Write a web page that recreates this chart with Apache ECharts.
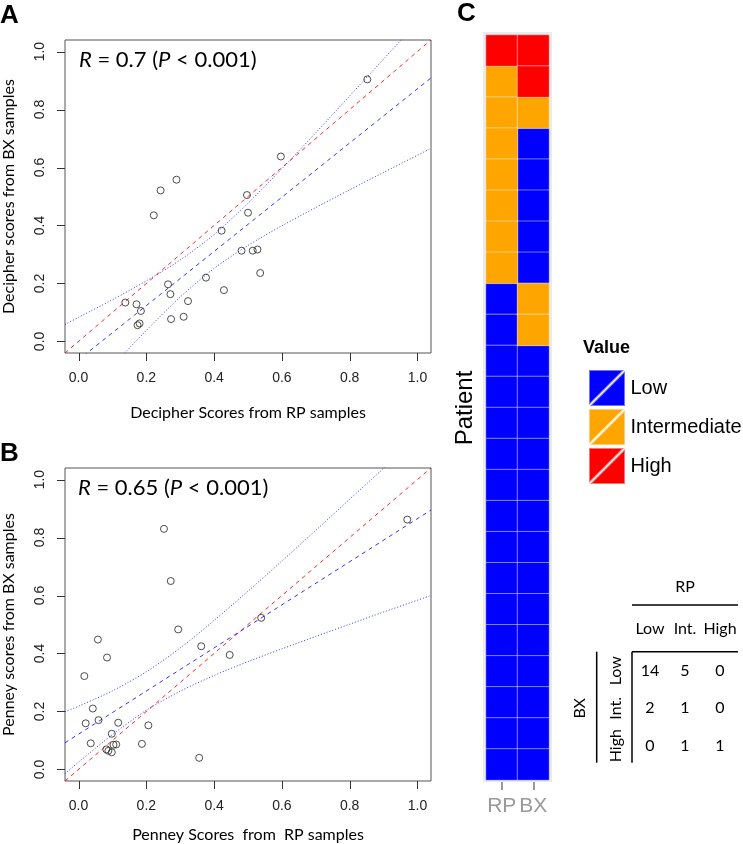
<!DOCTYPE html>
<html><head><meta charset="utf-8">
<script src="https://cdn.jsdelivr.net/npm/echarts@6/dist/echarts.min.js"></script>
<style>html,body{margin:0;padding:0;background:#fff}#c{width:743px;height:844px}</style>
</head><body><div id="c"></div>
<script>
// ---------- Panel A : Decipher ----------
const aRP = [0.852,0.597,0.289,0.242,0.222,0.497,0.500,0.422,0.481,0.514,0.528,0.536,0.376,0.429,0.264,0.271,0.323,0.138,0.171,0.184,0.174,0.180,0.273,0.310];
const aBX = [0.904,0.638,0.558,0.521,0.435,0.505,0.444,0.382,0.313,0.313,0.317,0.236,0.220,0.177,0.197,0.163,0.139,0.134,0.128,0.105,0.056,0.062,0.077,0.085];
// ---------- Panel B : Penney ----------
const bRP = [0.252,0.272,0.970,0.539,0.294,0.362,0.446,0.057,0.084,0.017,0.042,0.021,0.059,0.117,0.206,0.098,0.036,0.187,0.103,0.111,0.082,0.088,0.098,0.356];
const bBX = [0.830,0.650,0.862,0.523,0.483,0.425,0.395,0.448,0.386,0.322,0.210,0.159,0.170,0.161,0.152,0.123,0.090,0.088,0.085,0.086,0.069,0.064,0.059,0.040];
// regression / confidence band / identity lines
const bandX  = [-0.04,0,0.1,0.2,0.3,0.4,0.5,0.6,0.7,0.8,0.9,1.04];
const aUpper = [0.058,0.083,0.144,0.209,0.281,0.369,0.477,0.596,0.720,0.847,0.974,1.153];
const aLower = [-0.261,-0.211,-0.085,0.038,0.153,0.252,0.331,0.399,0.462,0.523,0.583,0.666];
const aFitX = [-0.04,1.04], aFitY = [-0.101,0.909];
const bUpper = [0.199,0.218,0.271,0.337,0.419,0.514,0.615,0.719,0.825,0.932,1.039,1.190];
const bLower = [-0.015,0.025,0.120,0.204,0.270,0.324,0.372,0.416,0.459,0.501,0.543,0.600];
const bFitX = [-0.04,1.04], bFitY = [0.092,0.895];
const idX = [-0.04,1.04], idY = [-0.04,1.04];
const ticks = [0,0.2,0.4,0.6,0.8,1.0];
const axisMin = -0.04, axisMax = 1.04;   // R's 4% range extension around 0..1
// ---------- Panel C : heatmap ----------
const sampleCats = ['RP','BX'];
const patients = ['1','2','3','4','5','6','7','8','9','10','11','12','13','14','15','16','17','18','19','20','21','22','23','24'];
const rpLevel = ['High','Intermediate','Intermediate','Intermediate','Intermediate','Intermediate','Intermediate','Intermediate','Low','Low','Low','Low','Low','Low','Low','Low','Low','Low','Low','Low','Low','Low','Low','Low'];
const bxLevel = ['High','High','Intermediate','Low','Low','Low','Low','Low','Intermediate','Intermediate','Low','Low','Low','Low','Low','Low','Low','Low','Low','Low','Low','Low','Low','Low'];
const levels = ['Low','Intermediate','High'];
const levelColors = ['#0000FF','#FFA500','#FF0000'];
// ---------- contingency table ----------
const tableCols = ['Low','Int.','High'];
const tableRows = ['Low','Int.','High'];
const tableCounts = [[14,5,0],[2,1,0],[0,1,1]];

const pairs = (xs, ys) => xs.map((x,i)=>[x, ys[i]]);
const RED = 'rgba(255,0,0,0.85)', BLUE = 'rgba(0,0,255,0.8)';
const TICK = 8;

// plot boxes (full data range -0.04..1.04)
const boxA = {left:65, top:40, width:366, height:313};
const boxB = {left:65, top:468, width:366, height:313};
// label strips outside the box: each spans exactly 0..1 and is TICK px deep
function tickGrids(box){
  const span = axisMax - axisMin;
  const w = box.width / span, h = box.height / span;
  return [
    {left: box.left + (0 - axisMin) * w, top: box.top + box.height, width: w, height: TICK},
    {left: box.left - TICK, top: box.top + (axisMax - 1) * h, width: TICK, height: h}
  ];
}
const [gAx, gAy] = tickGrids(boxA), [gBx, gBy] = tickGrids(boxB);

const hiddenVal = gi => ({gridIndex:gi, type:'value', min:axisMin, max:axisMax, show:false});
const tickCommon = {
  type:'value', min:0, max:1, interval:0.2,
  axisLine:{show:false}, axisTick:{show:false}, splitLine:{show:false},
  axisLabel:{formatter:v=>v.toFixed(1), margin:10, fontSize:14, fontFamily:'Liberation Sans', color:'#222'},
  nameLocation:'middle', nameTextStyle:{fontFamily:'Lato', fontSize:16, color:'#000'}
};
const tickX = (gi, name, gap) => Object.assign({}, tickCommon, {gridIndex:gi, position:'bottom', name, nameGap:gap});
const tickY = (gi, name, gap) => Object.assign({}, tickCommon, {gridIndex:gi, position:'left', name, nameGap:gap,
  axisLabel:Object.assign({}, tickCommon.axisLabel, {rotate:90})});
const blank = gi => ({gridIndex:gi, type:'value', show:false});

function scatterSeries(gi, xs, ys, up, lo, fx, fy){
  const base = {type:'line', xAxisIndex:gi, yAxisIndex:gi, showSymbol:false, symbol:'none', clip:true, silent:true};
  return [
    {type:'scatter', xAxisIndex:gi, yAxisIndex:gi, data:pairs(xs,ys), symbol:'circle', symbolSize:7,
      itemStyle:{color:'rgba(0,0,0,0)', borderColor:'#222', borderWidth:1}},
    Object.assign({}, base, {data:pairs(idX,idY), lineStyle:{color:RED, width:1, type:[4,4]}}),
    Object.assign({}, base, {data:pairs(fx,fy), lineStyle:{color:BLUE, width:1, type:[4,4]}}),
    Object.assign({}, base, {data:pairs(bandX,up), smooth:0.3, lineStyle:{color:BLUE, width:1, type:[1,2]}}),
    Object.assign({}, base, {data:pairs(bandX,lo), smooth:0.3, lineStyle:{color:BLUE, width:1, type:[1,2]}})
  ];
}

const heatSeries = levels.map((lv, li) => {
  const data = [];
  patients.forEach((p, pi) => {
    if (rpLevel[pi] === lv) data.push([0, pi, 1]);
    if (bxLevel[pi] === lv) data.push([1, pi, 1]);
  });
  return {type:'heatmap', name:lv, xAxisIndex:3, yAxisIndex:3, data,
    itemStyle:{color:levelColors[li], borderColor:'rgba(255,255,255,0.45)', borderWidth:1}};
});

// ---------- graphic texts ----------
const g = [];
const txt = (text, x, y, font, opts={}) => g.push(Object.assign({type:'text', x, y, silent:true,
  style:{text, font, fill: opts.fill || '#000', align: opts.align || 'left', textAlign: opts.align || 'left',
    verticalAlign:'middle', textVerticalAlign:'middle'}}, opts.rotation ? {rotation:opts.rotation} : {}));
txt('A', 0, 16, 'bold 26px "Liberation Sans"');
txt('B', 0, 454, 'bold 26px "Liberation Sans"');
txt('C', 457, 14, 'bold 26px "Liberation Sans"');
const rich = {i:{fontFamily:'Lato', fontSize:22, fontStyle:'italic', fill:'#000'}, n:{fontFamily:'Lato', fontSize:22, fill:'#000'}};
g.push({type:'text', x:79, y:60, silent:true, style:{text:'{i|R}{n| = 0.7 (}{i|P}{n| < 0.001)}', rich, font:'22px Lato', verticalAlign:'middle', textVerticalAlign:'middle'}});
g.push({type:'text', x:78, y:488, silent:true, style:{text:'{i|R}{n| = 0.65 (}{i|P}{n| < 0.001)}', rich, font:'22px Lato', verticalAlign:'middle', textVerticalAlign:'middle'}});
txt('Patient', 465, 408, '24px "Liberation Sans"', {align:'center', rotation:Math.PI/2});
txt('Value', 583, 348, 'bold 18px "Liberation Sans"');

// table
const tFont = '16px Lato';
const colX = [650, 685, 720], rowY = [670.7, 708.3, 745.7];
txt('RP', 685, 587, tFont, {align:'center'});
tableCols.forEach((c,i)=>txt(c, colX[i], 629, tFont, {align:'center'}));
tableRows.forEach((r,i)=>txt(r, 615.7, rowY[i], tFont, {align:'center', rotation:Math.PI/2}));
txt('BX', 580, 708.3, tFont, {align:'center', rotation:Math.PI/2});
tableCounts.forEach((row,ri)=>row.forEach((v,ci)=>txt(String(v), colX[ci], rowY[ri], tFont, {align:'center'})));
const ln = (x1,y1,x2,y2,stroke='#000',w=1.5) => g.push({type:'line', silent:true, z:100, shape:{x1,y1,x2,y2}, style:{stroke, lineWidth:w}});
ln(632, 605, 738, 605);
ln(632, 651.7, 738, 651.7);
ln(632, 651.7, 632, 762.7);
ln(596.7, 651.7, 596.7, 762.7);

// R-style outward tick marks on each box edge at the tick values
[boxA, boxB].forEach(box => {
  const span = axisMax - axisMin, bottom = box.top + box.height;
  ticks.forEach(v => {
    const px = Math.round(box.left + (v - axisMin) / span * box.width) + 0.5;
    const py = Math.round(box.top + (axisMax - v) / span * box.height) + 0.5;
    ln(px, bottom, px, bottom + TICK, '#333', 1);
    ln(box.left, py, box.left - TICK, py, '#333', 1);
  });
});

const option = {
  animation:false,
  backgroundColor:'#fff',
  grid:[
    Object.assign({show:true, borderColor:'#555', borderWidth:1, backgroundColor:'rgba(0,0,0,0)'}, boxA),
    Object.assign({show:true, borderColor:'#555', borderWidth:1, backgroundColor:'rgba(0,0,0,0)'}, boxB),
    {left:483, top:32, width:69, height:750, show:true, backgroundColor:'#EBEBEB', borderWidth:0},
    {left:486, top:35, width:63, height:745},
    gAx, gAy, gBx, gBy
  ],
  xAxis:[hiddenVal(0), hiddenVal(1),
    {gridIndex:2, type:'value', show:false},
    {gridIndex:3, type:'category', data:sampleCats, offset:2,
      axisLine:{show:false}, splitLine:{show:false},
      axisTick:{show:true, alignWithLabel:true, length:8, lineStyle:{color:'#999', width:2}},
      axisLabel:{interval:0, color:'#999', fontSize:21, fontFamily:'Liberation Sans', margin:14}},
    tickX(4, 'Decipher Scores from RP samples', 44), blank(5),
    tickX(6, 'Penney Scores  from  RP samples', 38), blank(7)
  ],
  yAxis:[hiddenVal(0), hiddenVal(1),
    {gridIndex:2, type:'value', show:false},
    {gridIndex:3, type:'category', data:patients, inverse:true, show:false},
    blank(4), tickY(5, 'Decipher scores from BX samples', 40),
    blank(6), tickY(7, 'Penney scores from BX samples', 40)
  ],
  legend:{data:levels, left:583, top:364, orient:'vertical', itemWidth:37, itemHeight:36, itemGap:1,
    icon:'path://M0,0L36,0L0,36Z M37,1L37,37L1,37Z', selectedMode:false,
    textStyle:{fontFamily:'Liberation Sans', fontSize:20, color:'#000'}},
  series:[
    ...scatterSeries(0, aRP, aBX, aUpper, aLower, aFitX, aFitY),
    ...scatterSeries(1, bRP, bBX, bUpper, bLower, bFitX, bFitY),
    ...heatSeries
  ],
  graphic:g
};
const chart = echarts.init(document.getElementById('c'), null, {renderer:'canvas'});
chart.setOption(option);
</script></body></html>
